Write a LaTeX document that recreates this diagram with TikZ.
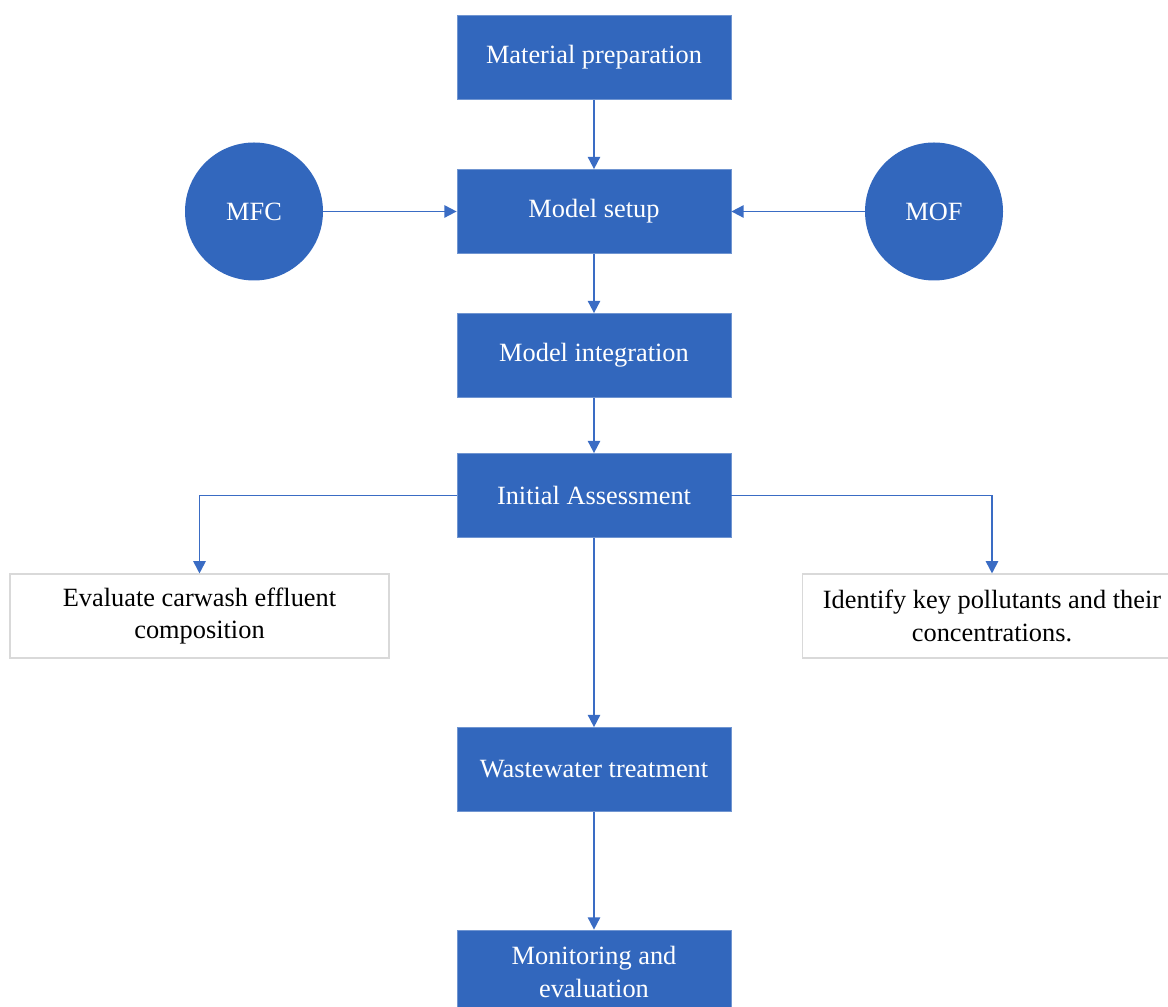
\documentclass[tikz,border=0pt]{standalone}
\usepackage{fontspec}
\setmainfont{Liberation Serif}
\usetikzlibrary{arrows.meta}
\definecolor{boxblue}{RGB}{50,103,189}
\definecolor{linkblue}{RGB}{58,108,196}
\definecolor{edgegray}{RGB}{217,217,217}
\begin{document}
\begin{tikzpicture}[
  >={Triangle[length=7pt,width=7pt]},
  bluebox/.style={fill=boxblue, draw=boxblue!70!white, line width=0.4pt, text=white,
    minimum width=5.48cm, minimum height=1.68cm, align=center, inner sep=0pt,
    font=\fontsize{15}{18.7}\selectfont},
  whitebox/.style={fill=white, draw=edgegray, line width=0.6pt, text=black,
    minimum width=7.58cm, minimum height=1.68cm, align=center, inner sep=0pt,
    font=\fontsize{15}{18.7}\selectfont},
  bluedisc/.style={circle, fill=boxblue, text=white, minimum size=2.76cm, inner sep=0pt,
    font=\fontsize{15}{18.7}\selectfont},
  link/.style={->, draw=linkblue, line width=1pt}
]
\clip (0,0) rectangle (23.36,20.12);
\useasboundingbox (0,0) rectangle (23.36,20.12);
% main column
\node[bluebox] (prep) at (11.88,18.97) {Material preparation};
\node[bluebox] (setup) at (11.88,15.89) {Model setup};
\node[bluebox] (integ) at (11.88,13.01) {Model integration};
\node[bluebox] (assess) at (11.88,10.21) {Initial Assessment};
\node[bluebox] (treat) at (11.88,4.73) {Wastewater treatment};
\node[bluebox] (monitor) at (11.88,0.68) {Monitoring and\\evaluation};
% inputs
\node[bluedisc] (mfc) at (5.08,15.89) {MFC};
\node[bluedisc] (mof) at (18.68,15.89) {MOF};
% side boxes
\node[whitebox] (effluent) at (3.99,7.80) {Evaluate carwash effluent\\composition};
\node[whitebox] (pollut) at (19.84,7.80) {Identify key pollutants and their\\concentrations.};
% links
\draw[link] (prep) -- (setup);
\draw[link] (mfc) -- (setup);
\draw[link] (mof) -- (setup);
\draw[link] (setup) -- (integ);
\draw[link] (integ) -- (assess);
\draw[link] (assess.west) -| (effluent.north);
\draw[link] (assess.east) -| (pollut.north);
\draw[link] (assess) -- (treat);
\draw[link] (treat) -- (monitor);
\end{tikzpicture}
\end{document}
